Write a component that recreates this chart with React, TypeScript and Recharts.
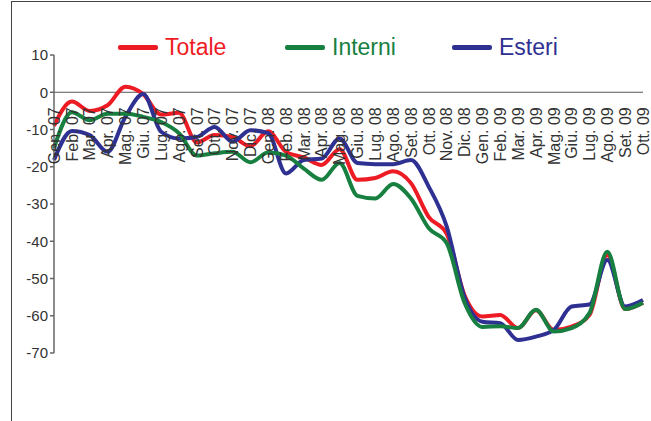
import React from "react";
import { LineChart, Line, XAxis, YAxis, ReferenceLine } from "recharts";

// mesi (asse categorie)
const months = [
  "Gen. 07", "Feb. 07", "Mar. 07", "Apr. 07", "Mag. 07", "Giu. 07", "Lug. 07", "Ago. 07",
  "Set. 07", "Ott. 07", "Nov. 07", "Dic. 07", "Gen. 08", "Feb. 08", "Mar. 08", "Apr. 08",
  "Mag. 08", "Giu. 08", "Lug. 08", "Ago. 08", "Set. 08", "Ott. 08", "Nov. 08", "Dic. 08",
  "Gen. 09", "Feb. 09", "Mar. 09", "Apr. 09", "Mag. 09", "Giu. 09", "Lug. 09", "Ago. 09",
  "Set. 09", "Ott. 09",
];

const totale = [
  -9, -2.5, -5, -3.5, 1.5, -0.5, -6, -5.5, -13.5, -11.5, -12, -14.5, -10.5, -16, -17.5, -19.5,
  -15.3, -23.5, -23, -21.2, -24.4, -33.5, -38, -54.5, -60.2, -59.8, -63.3, -58.5, -63.8, -62.9,
  -59.8, -43.7, -58.2, -56.5,
];

const interni = [
  -15, -5.4, -7.5, -5.8, -5.8, -6.6, -8, -11, -17, -16.4, -16, -18.8, -16.2, -17, -20.5, -23.5,
  -19, -27.8, -28.5, -24.6, -28.5, -36.5, -40.5, -56.5, -63, -62.8, -63.3, -58.4, -64.2, -63.3,
  -59.3, -42.8, -58.2, -56.5,
];

const esteri = [
  -18.2, -10.4, -11.5, -16, -6.6, -0.5, -10.6, -12.4, -12, -9.3, -13.3, -10.2, -11, -21.8, -18.2,
  -17.8, -12.4, -19, -19.3, -19.3, -18.2, -25.4, -36, -55, -61.6, -62, -66.5, -65.6, -63.8, -57.5,
  -57, -45, -57.5, -55.8,
];

const yTicks = [10, 0, -10, -20, -30, -40, -50, -60, -70];

const series = [
  { key: "totale", name: "Totale", color: "#ED1C24" },
  { key: "interni", name: "Interni", color: "#178040" },
  { key: "esteri", name: "Esteri", color: "#2E3192" },
];

const data = months.map((m, i) => ({
  month: m,
  totale: totale[i],
  interni: interni[i],
  esteri: esteri[i],
}));

const W = 651;
const H = 421;
const margin = { top: 55, right: 8, left: 14, bottom: 67 };
const X_AXIS_H = 1;
const Y_MIN = -70;
const Y_MAX = 10;
const plotH = H - margin.top - margin.bottom - X_AXIS_H;
// etichette mese appese sotto la linea dello zero
const zeroY = margin.top + (plotH * (Y_MAX - 0)) / (Y_MAX - Y_MIN);

const FONT = '"Liberation Sans", Arial, sans-serif';

const MonthTick = (props: any) => {
  const { x, payload } = props;
  return (
    <text
      x={x}
      y={zeroY + 15}
      transform={`rotate(-90, ${x}, ${zeroY + 15})`}
      textAnchor="end"
      dy="0.36em"
      fontSize={16}
      fontFamily={FONT}
      fill="#333"
    >
      {payload.value}
    </text>
  );
};

// ordine di disegno: verde sopra
const drawOrder = ["totale", "esteri", "interni"];

export default function App() {
  return (
    <div style={{ position: "absolute", left: 0, top: 0, width: W, height: H, overflow: "hidden", background: "#fff" }}>
      <div style={{ position: "absolute", left: 11, top: 1, width: 800, height: 600, border: "1px solid #444" }} />
      <div style={{ position: "absolute", left: 118, top: 33, display: "flex", fontFamily: FONT }}>
        {series.map((s) => (
          <div key={s.key} style={{ display: "flex", alignItems: "center", width: 167, height: 28 }}>
            <div style={{ width: 40, height: 5, background: s.color, borderRadius: 2, marginRight: 7 }} />
            <span style={{ color: s.color, fontSize: 23, lineHeight: "28px" }}>{s.name}</span>
          </div>
        ))}
      </div>
      <div style={{ position: "absolute", left: 0, top: 0 }}>
        <LineChart width={W} height={H} data={data} margin={margin}>
          <XAxis
            dataKey="month"
            interval={0}
            height={X_AXIS_H}
            axisLine={false}
            tickLine={false}
            tick={<MonthTick />}
          />
          <YAxis
            width={40}
            domain={[Y_MIN, Y_MAX]}
            ticks={yTicks}
            interval={0}
            tickSize={4}
            tickMargin={2}
            axisLine={{ stroke: "#666", strokeWidth: 1.5 }}
            tickLine={{ stroke: "#666", strokeWidth: 1.5 }}
            tick={{ fontSize: 15, fill: "#333", fontFamily: FONT }}
          />
          <ReferenceLine y={0} stroke="#555" strokeWidth={1.2} />
          {drawOrder.map((k) => {
            const s = series.find((x) => x.key === k)!;
            return (
              <Line
                key={s.key}
                type="monotone"
                dataKey={s.key}
                name={s.name}
                stroke={s.color}
                strokeWidth={4}
                dot={false}
                activeDot={false}
                isAnimationActive={false}
              />
            );
          })}
        </LineChart>
      </div>
    </div>
  );
}
